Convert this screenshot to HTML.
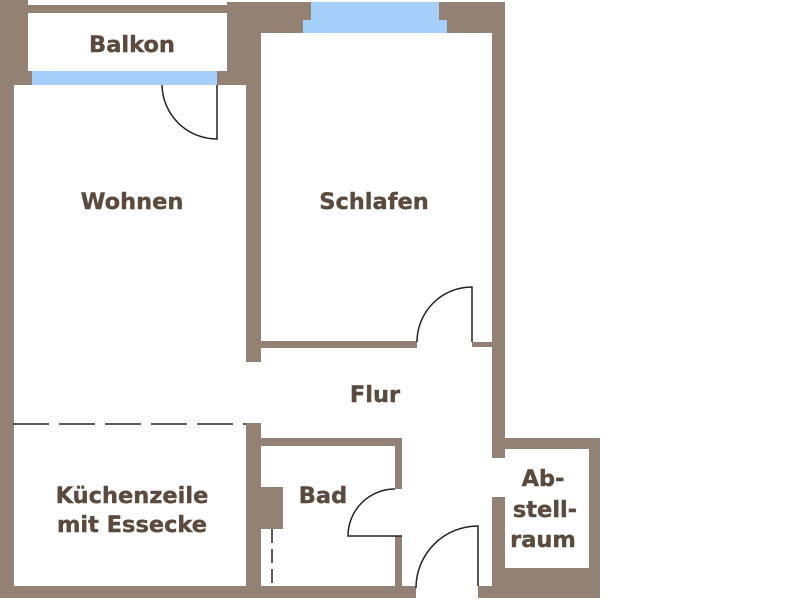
<!DOCTYPE html>
<html><head><meta charset="utf-8"><style>
html,body{margin:0;padding:0;background:#fff;width:800px;height:600px;overflow:hidden}
text{font-family:"DejaVu Sans","Liberation Sans",sans-serif;font-weight:bold;font-size:22.5px;fill:#5b4a3e;text-anchor:middle;stroke:#5b4a3e;stroke-width:0.4}
</style></head><body>
<svg width="800" height="600" viewBox="0 0 800 600" xmlns="http://www.w3.org/2000/svg">
<g fill="#938274">
<rect x="0" y="0" width="28" height="85"/>
<rect x="0" y="85" width="14" height="513"/>
<rect x="28" y="5" width="200" height="8"/>
<rect x="217" y="71" width="29" height="14"/>
<rect x="28" y="71" width="4" height="14"/>
<rect x="227" y="2" width="84" height="18"/>
<rect x="227" y="20" width="76" height="13"/>
<rect x="227" y="33" width="34" height="52"/>
<rect x="439" y="2" width="66" height="18"/>
<rect x="447" y="20" width="58" height="13"/>
<rect x="246" y="33" width="15" height="329"/>
<rect x="261" y="341" width="156" height="7"/>
<rect x="472" y="342" width="20" height="5"/>
<rect x="492" y="33" width="13" height="425"/>
<rect x="505" y="438" width="95" height="11"/>
<rect x="589" y="438" width="11" height="160"/>
<rect x="505" y="568" width="95" height="30"/>
<rect x="492" y="497" width="13" height="101"/>
<rect x="478" y="586" width="30" height="12"/>
<rect x="246" y="423" width="15" height="175"/>
<rect x="261" y="438" width="141" height="8"/>
<rect x="395" y="438" width="7" height="51"/>
<rect x="395" y="536" width="7" height="54"/>
<rect x="261" y="487" width="22" height="42"/>
<rect x="0" y="586" width="416" height="12"/>
</g>
<g fill="#a6cffc">
<rect x="32" y="71" width="185" height="14"/>
<rect x="311" y="2" width="128" height="18"/>
<rect x="303" y="20" width="144" height="13"/>
</g>
<g fill="none" stroke="#222" stroke-width="1.5">
<path d="M217 85 V139 A55 55 0 0 1 162 85"/>
<path d="M472 342 V287 A55 55 0 0 0 417 342"/>
<path d="M402 536 H348 A47 47 0 0 1 395 489"/>
<path d="M478 586 V526 A62 62 0 0 0 416 588"/>
<path d="M13 424 H246" stroke-dasharray="36,10"/>
<path d="M272 529 V586" stroke-dasharray="14,6"/>
</g>
<text x="132" y="52">Balkon</text>
<text x="132" y="209">Wohnen</text>
<text x="374" y="209">Schlafen</text>
<text x="375" y="402">Flur</text>
<text x="132" y="503">Küchenzeile</text>
<text x="132" y="532">mit Essecke</text>
<text x="323" y="503">Bad</text>
<text x="543" y="486">Ab-</text>
<text x="545" y="517">stell-</text>
<text x="543" y="547">raum</text>
</svg>
</body></html>
